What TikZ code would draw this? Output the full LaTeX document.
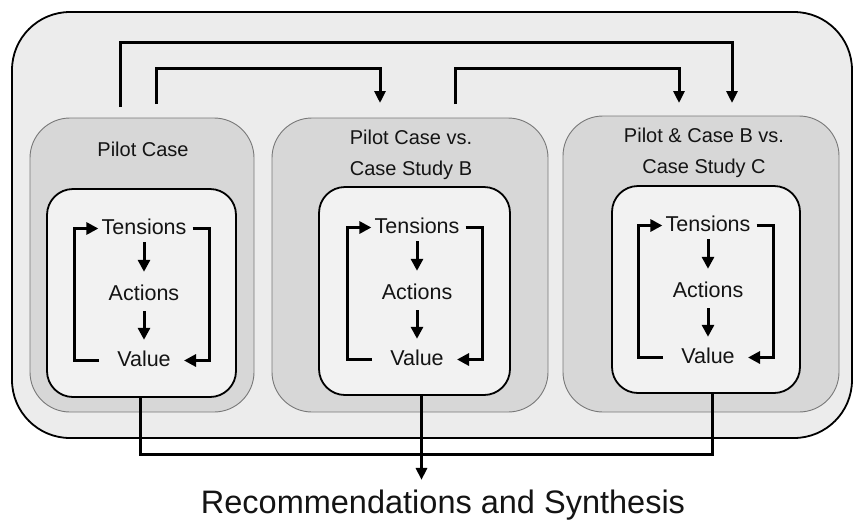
\documentclass[tikz,border=0pt]{standalone}
\usepackage{fontspec}
\setmainfont{Liberation Sans}
\usetikzlibrary{arrows.meta}

\definecolor{outerfill}{RGB}{236,236,236}
\definecolor{casefill}{RGB}{215,215,215}
\definecolor{caseline}{RGB}{120,120,120}
\definecolor{loopfill}{RGB}{242,242,242}
\definecolor{ink}{RGB}{20,20,20}

\newcommand\ttlfont{\fontsize{20}{31}\selectfont}
\newcommand\stagefont{\fontsize{21.5}{24}\selectfont}
\newcommand\recfont{\fontsize{32.5}{36}\selectfont}

\begin{document}
\begin{tikzpicture}[x=1pt,y=-1pt,
  panel/.style={inner sep=0pt, outer sep=0pt, anchor=north west},
  outerbox/.style={panel, draw=black, line width=1.8pt, fill=outerfill, rounded corners=58pt},
  casebox/.style={panel, draw=caseline, line width=0.9pt, fill=casefill, rounded corners=40pt},
  loopbox/.style={panel, draw=black, line width=1.8pt, fill=loopfill, rounded corners=26pt},
  casetitle/.style={font=\ttlfont, text=ink, align=center},
  stage/.style={font=\stagefont, text=ink, anchor=base, text height=15pt, text depth=4pt, inner ysep=4pt, inner xsep=3pt},
  conn/.style={draw=black, line width=3pt},
  arr/.style={conn, -{Triangle[length=12pt,width=11pt]}},
  looparr/.style={draw=black, line width=3pt, -{Triangle[length=12pt,width=12pt]}}
]
\useasboundingbox (0,0) rectangle (853,520);
\fill[white] (0,0) rectangle (853,520);

% frame around the three studies
\node[outerbox, minimum width=840pt, minimum height=426pt] (outer) at (12,12) {};

% case study panels
\node[casebox, minimum width=224pt, minimum height=294pt] (b1) at (30,118) {};
\node[casebox, minimum width=276pt, minimum height=294pt] (b2) at (272,118) {};
\node[casebox, minimum width=276pt, minimum height=296pt] (b3) at (563,116) {};

\node[casetitle, anchor=base] (h1) at (143,156) {Pilot Case};
\node[casetitle] (h2) at (411,154.5) {Pilot Case vs.\\Case Study B};
\node[casetitle] (h3) at (704,153) {Pilot \& Case B vs.\\Case Study C};

% inner analysis cycles
\node[loopbox, minimum width=189pt, minimum height=208pt] (i1) at (47,189) {};
\node[loopbox, minimum width=191pt, minimum height=208pt] (i2) at (319,187) {};
\node[loopbox, minimum width=188pt, minimum height=207pt] (i3) at (612,186) {};

\foreach \k/\cx/\by in {1/144/234, 2/417/233, 3/708/231} {
  \node[stage] (t\k) at (\cx,\by) {Tensions};
  \node[stage] (a\k) at (\cx,\by+66) {Actions};
  \node[stage] (v\k) at (\cx,\by+132) {Value};
  % bracket columns and free ends of the feedback loop
  \coordinate (lb\k) at (\cx-70,0);
  \coordinate (rb\k) at (\cx+65,0);
  \coordinate (vl\k) at (\cx-45,0);
  \coordinate (vr\k) at (\cx+40,0);
  \draw[looparr, shorten >=9pt] (t\k.south) -- (a\k.north);
  \draw[looparr, shorten <=3pt, shorten >=7pt] (a\k.south) -- (v\k.north);
  \draw[looparr] (vl\k |- v\k.west) -| (lb\k |- t\k.west) -- (t\k.west);
  \draw[looparr] ([xshift=3pt]t\k.east) -| (rb\k |- v\k.east) -- (vr\k |- v\k.east);
}

% links carried forward between studies
\coordinate (s1) at (120,107);
\coordinate (s2) at (156,104);
\coordinate (s3) at (455,104);
\coordinate (e1) at (732,103);
\coordinate (e2) at (380,103);
\coordinate (e3) at (679,103);
\draw[arr] (s1) -- ++(0,-65) -| (e1);
\draw[arr] (s2) -- ++(0,-36) -| (e2);
\draw[arr] (s3) -- ++(0,-36) -| (e3);

% synthesis of all three studies
\node[font=\recfont, text=ink, anchor=base] (rec) at (443,513) {Recommendations and Synthesis};
\coordinate (p1) at ([xshift=-1pt]i1.south);
\coordinate (p2) at ([xshift=7pt]i2.south);
\coordinate (p3) at ([xshift=6pt]i3.south);
\draw[conn] (p1) -- ++(0,57) -| (p3);
\draw[arr, shorten >=6pt] (p2) -- (p2 |- rec.north);
\end{tikzpicture}
\end{document}
